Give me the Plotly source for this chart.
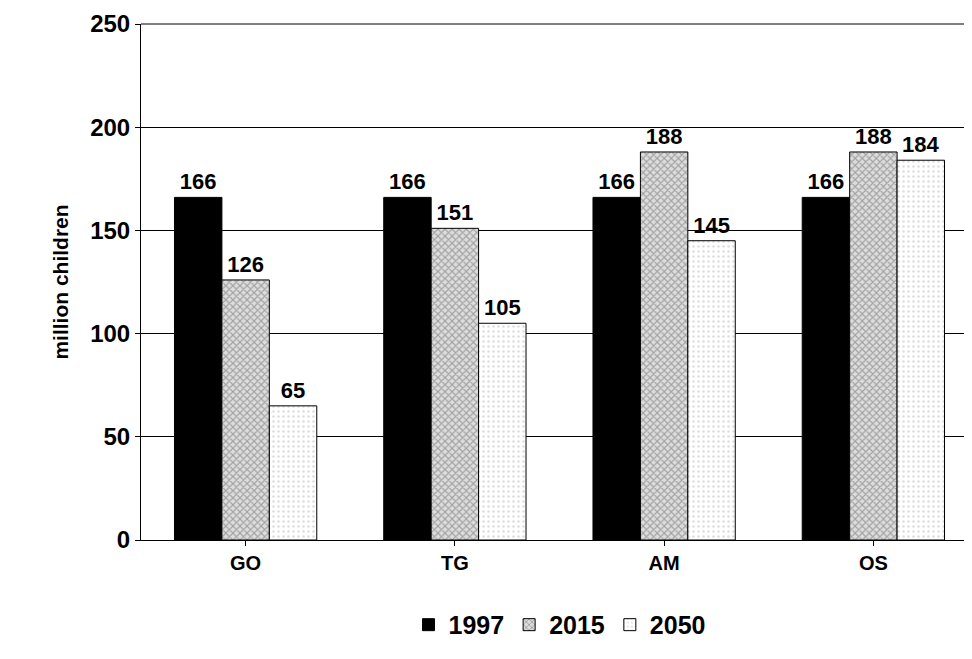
import plotly.graph_objects as go

regions = ["GO", "TG", "AM", "OS"]
y1997 = [166, 166, 166, 166]
y2015 = [126, 151, 188, 188]
y2050 = [65, 105, 145, 184]
yticks = [0, 50, 100, 150, 200, 250]

fig = go.Figure()
fig.add_bar(x=regions, y=y1997, name="1997", marker=dict(color="black", line=dict(color="black", width=1)))
fig.add_bar(x=regions, y=y2015, name="2015",
            marker=dict(color="#bbbbbb", line=dict(color="black", width=1),
                        pattern=dict(shape="x", fgcolor="#666666", bgcolor="#dddddd", size=5, solidity=0.4)))
fig.add_bar(x=regions, y=y2050, name="2050",
            marker=dict(color="white", line=dict(color="black", width=1),
                        pattern=dict(shape=".", fgcolor="#bbbbbb", bgcolor="white", size=5, solidity=0.2)))

fig.update_traces(textposition="outside", texttemplate="<b>%{y}</b>",
                  textfont=dict(size=22, color="black", family="Liberation Sans"), cliponaxis=False)
fig.for_each_trace(lambda t: t.update(name=f"<b>{t.name}</b>"))
fig.update_layout(
    width=972, height=659, barmode="group", bargap=0.32, bargroupgap=0,
    plot_bgcolor="white", paper_bgcolor="white",
    font=dict(family="Liberation Sans, Arial", color="black", size=20),
    margin=dict(l=133, r=2, t=14, b=127),
    legend=dict(orientation="h", x=0.5, xanchor="center", y=-0.12, yanchor="top",
                font=dict(size=25), traceorder="normal"),
    xaxis=dict(showline=True, linecolor="black", ticks="outside", tickcolor="black",
               tickvals=regions, ticktext=[f"<b>{r}</b>" for r in regions], tickfont=dict(size=20)),
    yaxis=dict(range=[0, 250], showgrid=True, gridcolor="black", gridwidth=1,
               showline=True, linecolor="black", ticks="outside", tickcolor="black",
               tickvals=yticks, ticktext=[f"<b>{v}</b>" for v in yticks], tickfont=dict(size=24),
               title=dict(text="<b>million children</b>", font=dict(size=21))),
)
fig.add_shape(type="line", xref="paper", yref="paper", x0=0, x1=1, y0=1, y1=1, line=dict(color="black", width=1))
fig.write_html("out.html")
